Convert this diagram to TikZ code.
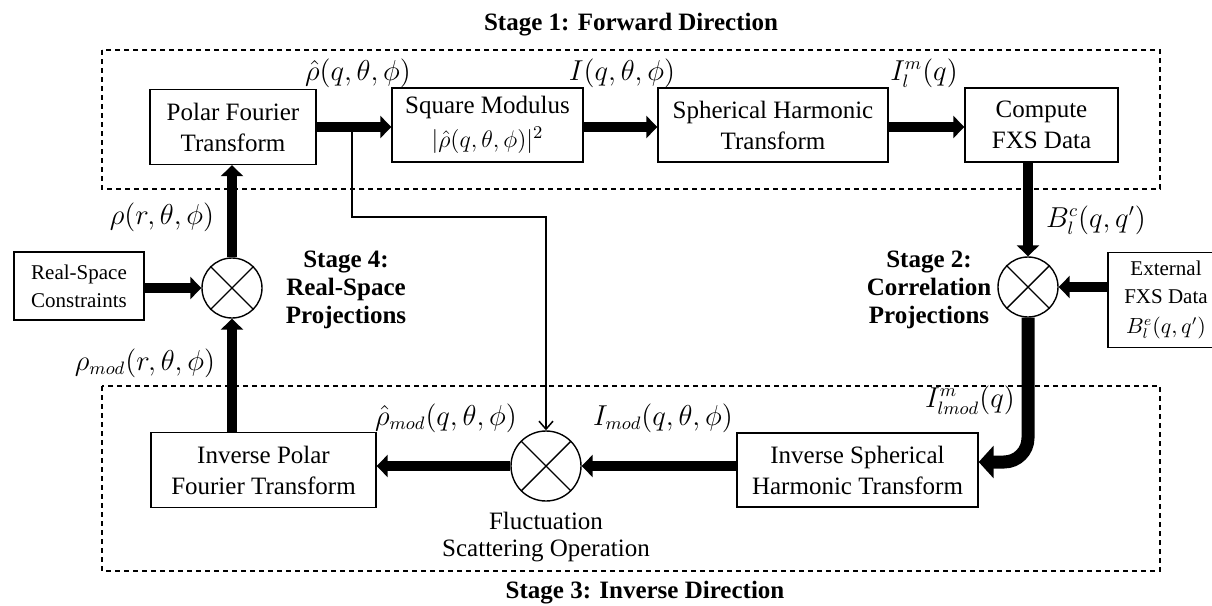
\documentclass[tikz,border=0pt]{standalone}
\usepackage{fontspec}
\setmainfont{Liberation Serif}
\usetikzlibrary{arrows.meta}
\begin{document}
\begin{tikzpicture}[x=0.5pt,y=-0.5pt,
 box/.style={draw, line width=0.7pt, align=center, inner sep=0pt, font=\fontsize{12.5}{15.5}\selectfont},
 smallbox/.style={draw, line width=0.7pt, align=center, inner sep=0pt, font=\fontsize{10.5}{14}\selectfont},
 mixer/.style={draw, circle, line width=0.7pt, inner sep=0pt, minimum size=30pt},
 lbl/.style={inner sep=0pt, font=\fontsize{13.5}{15}\selectfont},
 stagetxt/.style={align=center, inner sep=0pt, font=\fontsize{12.5}{14}\selectfont\bfseries},
 plaintxt/.style={align=center, inner sep=0pt, font=\fontsize{12.5}{13.5}\selectfont},
 flow/.style={line width=5pt, -{Triangle[length=5.5pt,width=11pt]}},
 bigflow/.style={line width=6.5pt, -{Triangle[length=7.5pt,width=16pt]}, rounded corners=12pt},
 tapline/.style={line width=0.75pt, -{Straight Barb[length=4pt,width=7pt]}},
 stagebox/.style={draw, dash pattern=on 2.5pt off 2pt, line width=0.6pt}
]
\useasboundingbox (0,0) rectangle (1212,606);

% stage frames
\draw[stagebox] (102,50) rectangle (1160,189);
\draw[stagebox] (102,386) rectangle (1160,571);

% titles
\node[stagetxt] (t1) at (631,25) {Stage 1: Forward Direction};
\node[stagetxt] (t3) at (645,593) {Stage 3: Inverse Direction};
\node[stagetxt] (t4) at (346,290) {Stage 4:\\Real-Space\\Projections};
\node[stagetxt] (t2) at (929,290) {Stage 2:\\Correlation\\Projections};

% top row
\node[box, minimum width=83pt, minimum height=37.5pt] (pft) at (233,127) {Polar Fourier\\Transform};
\node[box, minimum width=95.5pt, minimum height=37pt] (sm) at (487.5,125) {Square Modulus\\[1.5pt]$|\hat{\rho}(q,\theta,\phi)|^2$};
\node[box, minimum width=115pt, minimum height=37pt] (sht) at (773,125) {Spherical Harmonic\\Transform};
\node[box, minimum width=76.5pt, minimum height=37pt] (cfx) at (1041.5,125) {Compute\\FXS Data};

% mixers
\node[mixer] (o1) at (232,288) {};
\node[mixer] (o2) at (1028,287) {};
\node[mixer, minimum size=35pt] (o3) at (546,466) {};
\foreach \m in {o1,o2,o3}
  \draw[line width=0.7pt] (\m.north west) -- (\m.south east) (\m.north east) -- (\m.south west);

% side boxes
\node[smallbox, minimum width=65pt, minimum height=34pt] (rsc) at (79,286) {Real-Space\\Constraints};
\node[smallbox, minimum width=58pt, minimum height=47.5pt] (ext) at (1166,300) {External\\FXS Data\\[1pt]$B_l^e(q,q')$};

% bottom row
\node[box, minimum width=120.5pt, minimum height=37pt] (isht) at (857.5,470) {Inverse Spherical\\Harmonic Transform};
\node[box, minimum width=112.5pt, minimum height=37.5pt] (ipft) at (263.5,470) {Inverse Polar\\Fourier Transform};

% flows
\draw[flow] (pft.east |- 0,127) -- (sm.west |- 0,127);
\draw[flow] (sm.east |- 0,127) -- (sht.west |- 0,127);
\draw[flow] (sht.east |- 0,127) -- (cfx.west |- 0,127);
\draw[flow] (o2.north |- cfx.south) -- (o2.north);
\draw[flow] (ext.west |- o2.east) -- (o2.east);
\draw[bigflow] (o2.south) |- ([yshift=4pt]isht.east);
\draw[flow] (isht.west |- o3.east) -- (o3.east);
\draw[flow] (o3.west) -- (ipft.east |- o3.west);
\draw[flow] (o1.south |- ipft.north) -- (o1.south);
\draw[flow] (o1.north) -- (o1.north |- pft.south);
\draw[flow] (rsc.east |- o1.west) -- (o1.west);

% tap line
\coordinate (tap) at (352,127);
\coordinate (bend) at (352,217);
\draw[tapline] (tap) -- (bend) -| (o3.north);

% labels
\node[lbl] (l1) at (358,73) {$\hat{\rho}(q,\theta,\phi)$};
\node[lbl] (l2) at (622,73) {$I(q,\theta,\phi)$};
\node[lbl] (l3) at (924,73) {$I_l^m(q)$};
\node[lbl] (l4) at (1096,220) {$B_l^c(q,q')$};
\node[lbl] (l5) at (162,217) {$\rho(r,\theta,\phi)$};
\node[lbl] (l6) at (145,363) {$\rho_{mod}(r,\theta,\phi)$};
\node[lbl] (l7) at (446,418) {$\hat{\rho}_{mod}(q,\theta,\phi)$};
\node[lbl] (l8) at (663,418) {$I_{mod}(q,\theta,\phi)$};
\node[lbl] (l9) at (970,400) {$I_{lmod}^m(q)$};
\node[plaintxt] (fso) at (546,537) {Fluctuation\\Scattering Operation};
\end{tikzpicture}
\end{document}
